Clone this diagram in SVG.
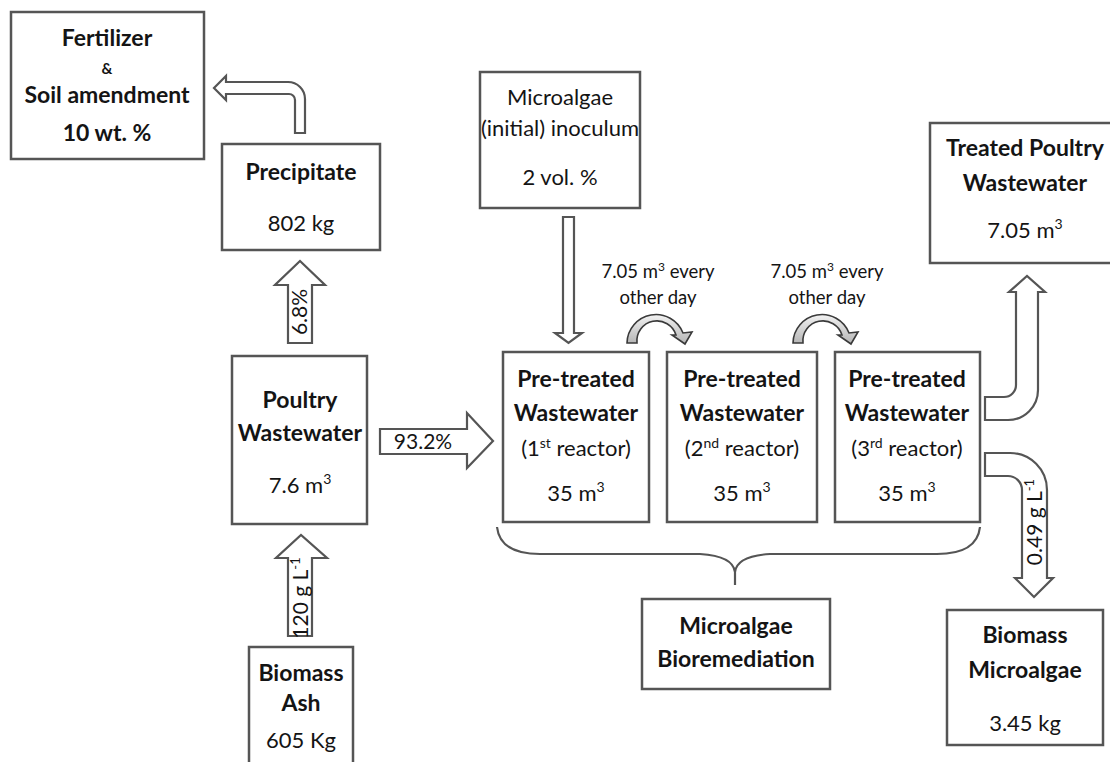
<svg xmlns="http://www.w3.org/2000/svg" width="1110" height="762" viewBox="0 0 1110 762">
  <defs>
    <linearGradient id="curveFill" x1="0" y1="0" x2="0" y2="1">
      <stop offset="0" stop-color="#f2f2f2"/>
      <stop offset="1" stop-color="#b4b4b4"/>
    </linearGradient>
  </defs>
  <style>
    .box { fill: #ffffff; stroke: #555555; stroke-width: 2.5; }
    .arrow { fill: #ffffff; stroke: #555555; stroke-width: 2.2; stroke-linejoin: miter; }
    .curl { fill: url(#curveFill); stroke: #3a3a3a; stroke-width: 1.6; }
    .brace { fill: none; stroke: #555555; stroke-width: 2.2; }
    text { font-family: Lato, "Liberation Sans", sans-serif; fill: #141414; text-anchor: middle; }
    .b { font-weight: bold; font-size: 23px; }
    .r { font-size: 22px; }
    .s { font-size: 18.5px; }
    .amp { font-weight: bold; font-size: 15px; }
    .lab { font-size: 21px; }
  </style>

  <!-- connectors: block arrows, transfer arcs and brace -->
  <g id="connectors">
    <!-- precipitate to fertilizer (bent arrow) -->
    <path class="arrow" d="M 295 133 L 295 100 A 6 6 0 0 0 289 94 L 226 94 L 226 100 L 214 88 L 226 76 L 226 82 L 288 82 A 17 17 0 0 1 305 99 L 305 133 Z"/>
    <!-- poultry wastewater to precipitate -->
    <path class="arrow" d="M 288 343 L 288 285 L 275 285 L 300 261 L 325 285 L 312 285 L 312 343 Z"/>
    <text class="lab" transform="translate(307,312) rotate(-90)">6.8%</text>
    <!-- biomass ash to poultry wastewater -->
    <path class="arrow" d="M 288 636 L 288 558 L 276 558 L 301 535 L 327 558 L 312 558 L 312 636 Z"/>
    <text class="lab" transform="translate(308,598) rotate(-90)">120 g L<tspan font-size="13" dy="-8">-1</tspan></text>
    <!-- poultry wastewater to first reactor -->
    <path class="arrow" d="M 380 429 L 467 429 L 467 413 L 493 441 L 467 468 L 467 454 L 380 454 Z"/>
    <text class="lab" x="423" y="449">93.2%</text>
    <!-- inoculum to first reactor -->
    <path class="arrow" d="M 563 217 L 563 333 L 555 333 L 568.5 343 L 582 333 L 574 333 L 574 217 Z"/>
    <!-- reactor to reactor transfers -->
    <path class="curl" d="M 627 343 A 29 29 0 0 1 683 333 L 692 332 L 685 344 L 672 335 L 676 335 A 20 20 0 0 0 637 343 Z"/>
    <path class="curl" d="M 793 343 A 29 29 0 0 1 849 333 L 858 332 L 851 344 L 838 335 L 842 335 A 20 20 0 0 0 803 343 Z"/>
    <text class="s" x="658" y="278">7.05 m<tspan font-size="12" dy="-7">3</tspan><tspan dy="7"> every</tspan></text>
    <text class="s" x="658" y="304">other day</text>
    <text class="s" x="827" y="278">7.05 m<tspan font-size="12" dy="-7">3</tspan><tspan dy="7"> every</tspan></text>
    <text class="s" x="827" y="304">other day</text>
    <!-- third reactor to treated wastewater -->
    <path class="arrow" d="M 985 397 L 1004 397 A 12 12 0 0 0 1016 385 L 1016 292 L 1009 292 L 1027 276 L 1045 292 L 1038 292 L 1038 390 A 30 30 0 0 1 1008 420 L 985 420 Z"/>
    <!-- third reactor to biomass microalgae -->
    <path class="arrow" d="M 985 453 L 1010 453 A 37 37 0 0 1 1047 490 L 1047 578 L 1053 578 L 1034 597 L 1015 578 L 1022 578 L 1022 490 A 14 14 0 0 0 1008 476 L 985 476 Z"/>
    <text class="lab" transform="translate(1042,522) rotate(-90)">0.49 g L<tspan font-size="13" dy="-8">-1</tspan></text>
    <!-- brace grouping the reactors -->
    <path class="brace" d="M 497 527 Q 500 554 540 554 L 700 554 Q 733 556 735 572 L 735 585 M 735 572 Q 737 556 770 554 L 937 554 Q 977 554 980 527"/>
  </g>

  <g id="fertilizer">
    <rect class="box" x="11" y="12" width="193" height="147"/>
    <text class="b" x="107" y="46">Fertilizer</text>
    <text class="amp" x="107" y="74">&amp;</text>
    <text class="b" x="107" y="103">Soil amendment</text>
    <text class="b" x="107" y="141">10 wt. %</text>
  </g>

  <g id="precipitate">
    <rect class="box" x="222" y="144" width="158" height="106"/>
    <text class="b" x="301" y="180">Precipitate</text>
    <text class="r" x="301" y="231">802 kg</text>
  </g>

  <g id="poultry-wastewater">
    <rect class="box" x="232" y="356" width="135" height="168"/>
    <text class="b" x="300" y="408">Poultry</text>
    <text class="b" x="300" y="441">Wastewater</text>
    <text class="r" x="300" y="493">7.6 m<tspan font-size="14" dy="-9">3</tspan></text>
  </g>

  <g id="biomass-ash">
    <rect class="box" x="249" y="647" width="104" height="130"/>
    <text class="b" x="301" y="681">Biomass</text>
    <text class="b" x="301" y="711">Ash</text>
    <text class="r" x="301" y="748">605 Kg</text>
  </g>

  <g id="inoculum">
    <rect class="box" x="480" y="72" width="160" height="136"/>
    <text class="r" x="560" y="105">Microalgae</text>
    <text class="r" x="560" y="136">(initial) inoculum</text>
    <text class="r" x="560" y="185">2 vol. %</text>
  </g>

  <g id="reactor-1">
    <rect class="box" x="503" y="352" width="146" height="170"/>
    <text class="b" x="576" y="387">Pre-treated</text>
    <text class="b" x="576" y="421">Wastewater</text>
    <text class="r" x="576" y="456">(1<tspan font-size="14" dy="-8">st</tspan><tspan dy="8"> reactor)</tspan></text>
    <text class="r" x="576" y="501">35 m<tspan font-size="14" dy="-9">3</tspan></text>
  </g>

  <g id="reactor-2">
    <rect class="box" x="667" y="352" width="150" height="170"/>
    <text class="b" x="742" y="387">Pre-treated</text>
    <text class="b" x="742" y="421">Wastewater</text>
    <text class="r" x="742" y="456">(2<tspan font-size="14" dy="-8">nd</tspan><tspan dy="8"> reactor)</tspan></text>
    <text class="r" x="742" y="501">35 m<tspan font-size="14" dy="-9">3</tspan></text>
  </g>

  <g id="reactor-3">
    <rect class="box" x="835" y="352" width="145" height="170"/>
    <text class="b" x="907" y="387">Pre-treated</text>
    <text class="b" x="907" y="421">Wastewater</text>
    <text class="r" x="907" y="456">(3<tspan font-size="14" dy="-8">rd</tspan><tspan dy="8"> reactor)</tspan></text>
    <text class="r" x="907" y="501">35 m<tspan font-size="14" dy="-9">3</tspan></text>
  </g>

  <g id="treated-wastewater">
    <rect class="box" x="930" y="123" width="190" height="140"/>
    <text class="b" x="1025" y="156">Treated Poultry</text>
    <text class="b" x="1025" y="191">Wastewater</text>
    <text class="r" x="1025" y="238">7.05 m<tspan font-size="14" dy="-9">3</tspan></text>
  </g>

  <g id="biomass-microalgae">
    <rect class="box" x="947" y="610" width="156" height="135"/>
    <text class="b" x="1025" y="643">Biomass</text>
    <text class="b" x="1025" y="678">Microalgae</text>
    <text class="r" x="1025" y="731">3.45 kg</text>
  </g>

  <g id="bioremediation">
    <rect class="box" x="642" y="599" width="188" height="90"/>
    <text class="b" x="736" y="634">Microalgae</text>
    <text class="b" x="736" y="667">Bioremediation</text>
  </g>
</svg>
